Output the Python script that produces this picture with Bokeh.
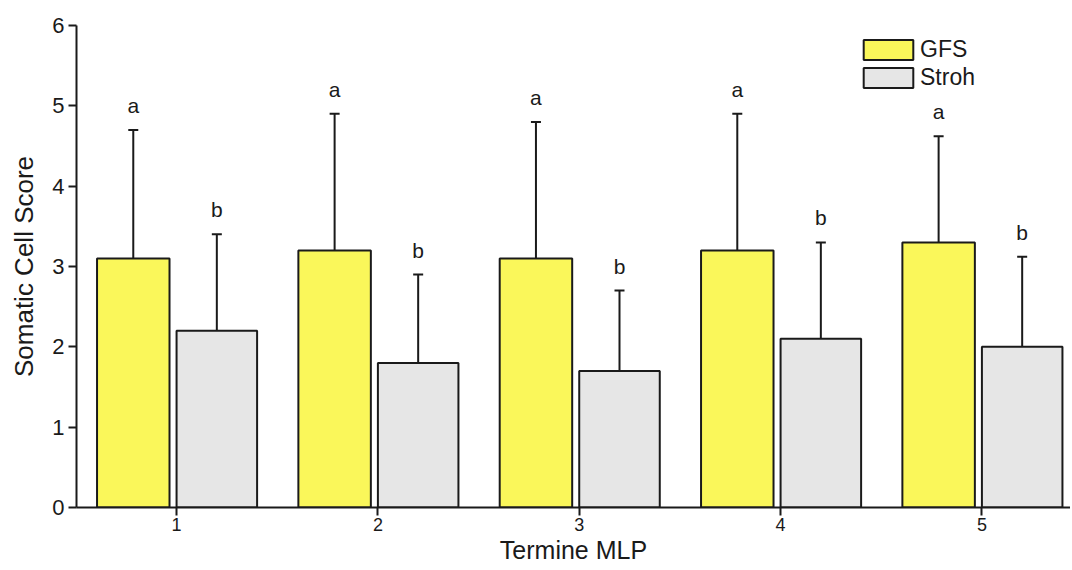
from bokeh.plotting import figure
from bokeh.models import ColumnDataSource, Whisker, TeeHead, Legend, LegendItem, FixedTicker, Range1d
from bokeh.embed import file_html
from bokeh.resources import INLINE
from bokeh.core.properties import value

# data
termine = [1, 2, 3, 4, 5]
gfs = [3.1, 3.2, 3.1, 3.2, 3.3]
gfs_upper = [4.7, 4.9, 4.8, 4.9, 4.62]
stroh = [2.2, 1.8, 1.7, 2.1, 2.0]
stroh_upper = [3.4, 2.9, 2.7, 3.3, 3.12]
gfs_letters = ["a", "a", "a", "a", "a"]
stroh_letters = ["b", "b", "b", "b", "b"]

FONT = "Liberation Sans"
GFS_OFF, GFS_W = -0.215, 0.36
STR_OFF, STR_W = 0.2, 0.40

src = ColumnDataSource(dict(
    xg=[t + GFS_OFF for t in termine],
    xs=[t + STR_OFF for t in termine],
    gfs=gfs, gfs_up=gfs_upper, stroh=stroh, stroh_up=stroh_upper,
    lg=gfs_letters, ls=stroh_letters,
))

W, H = 1070, 570
p = figure(width=W, height=H, output_backend="svg", toolbar_location=None,
           x_range=Range1d(0.503, 5.44), y_range=Range1d(0, 6),
           min_border_left=76, min_border_right=0, min_border_top=25, min_border_bottom=H - 507)
p.outline_line_color = None
p.xgrid.visible = False
p.ygrid.visible = False
p.background_fill_color = "white"

r_g = p.vbar(x="xg", top="gfs", width=GFS_W, bottom=0, source=src,
             fill_color="#FAF75A", line_color="#1a1a1a", line_width=2)
r_s = p.vbar(x="xs", top="stroh", width=STR_W, bottom=0, source=src,
             fill_color="#E6E6E6", line_color="#1a1a1a", line_width=2)

for base, lower, upper in (("xg", "gfs", "gfs_up"), ("xs", "stroh", "stroh_up")):
    w = Whisker(base=base, lower=lower, upper=upper, source=src, dimension="height",
                line_color="#1a1a1a", line_width=2,
                upper_head=TeeHead(size=10, line_width=2, line_color="#1a1a1a"),
                lower_head=None)
    p.add_layout(w)

p.text(x="xg", y="gfs_up", text="lg", source=src, y_offset=-13,
       text_align="center", text_baseline="bottom",
       text_font=value(FONT), text_font_size="21px", text_color="#1a1a1a")
p.text(x="xs", y="stroh_up", text="ls", source=src, y_offset=-13,
       text_align="center", text_baseline="bottom",
       text_font=value(FONT), text_font_size="21px", text_color="#1a1a1a")

# axes
for ax in (p.xaxis[0], p.yaxis[0]):
    ax.axis_line_width = 2
    ax.axis_line_color = "#1a1a1a"
    ax.major_tick_line_width = 2
    ax.major_tick_line_color = "#1a1a1a"
    ax.major_tick_in = 0
    ax.major_tick_out = 8
    ax.minor_tick_line_color = None
    ax.major_label_text_font = FONT
    ax.major_label_text_color = "#1a1a1a"
    ax.axis_label_text_font = FONT
    ax.axis_label_text_font_style = "normal"
    ax.axis_label_text_color = "#1a1a1a"
    ax.axis_label_text_font_size = "25px"

p.xaxis.ticker = FixedTicker(ticks=termine)
p.xaxis.major_label_text_font_size = "18px"
p.xaxis.major_label_standoff = 2
p.xaxis.axis_label = "Termine MLP"
p.xaxis.axis_label_standoff = 2
p.yaxis.ticker = FixedTicker(ticks=[0, 1, 2, 3, 4, 5, 6])
p.yaxis.major_label_text_font_size = "22px"
p.yaxis.major_label_standoff = 4
p.yaxis.axis_label = "Somatic Cell Score"
p.yaxis.axis_label_standoff = 10
p.yaxis.axis_label_text_font_size = "26px"

legend = Legend(items=[LegendItem(label="GFS", renderers=[r_g]),
                       LegendItem(label="Stroh", renderers=[r_s])],
                location=(781, 416), orientation="vertical",
                glyph_width=62, glyph_height=25, label_height=25, spacing=1,
                padding=10, margin=0, label_standoff=1,
                label_text_font=FONT, label_text_font_size="23px",
                label_text_color="#1a1a1a",
                border_line_color=None, background_fill_alpha=0)
p.add_layout(legend)

open("out.html", "w").write(file_html(p, INLINE))
